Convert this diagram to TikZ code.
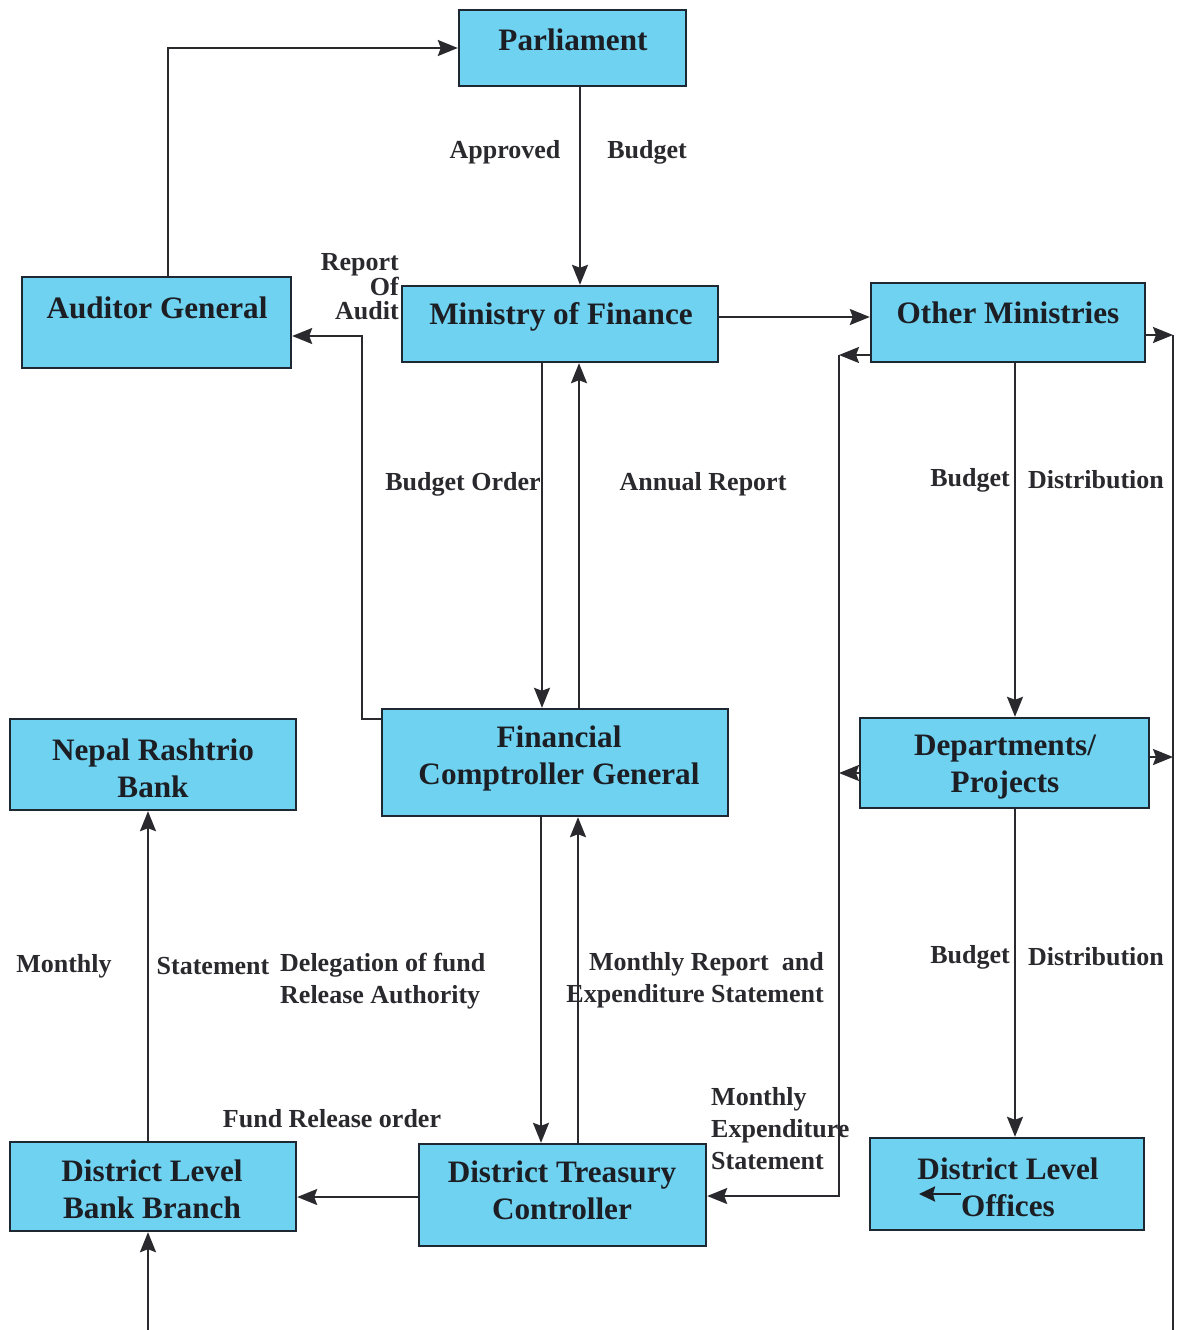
\documentclass[tikz,border=0pt]{standalone}
\usepackage{fontspec}
\setmainfont{Liberation Serif}
\usetikzlibrary{arrows.meta}
\definecolor{boxfill}{RGB}{110,210,240}
\definecolor{boxline}{RGB}{30,40,50}
\definecolor{ink}{RGB}{28,30,36}
\definecolor{lblink}{RGB}{42,42,46}
\begin{document}
\begin{tikzpicture}[x=1pt,y=-1pt,
  box/.style={draw=boxline, line width=2.4pt, fill=boxfill, inner sep=0pt},
  boxtxt/.style={inner sep=0pt, align=center, text=ink,
    font=\bfseries\fontsize{31.2}{37}\selectfont},
  lbl/.style={inner sep=0pt, text=lblink, font=\bfseries\fontsize{26}{32}\selectfont},
  link/.style={draw=lblink, line width=2pt},
  arr/.style={link, -{Stealth[length=20pt,width=16pt,inset=3pt]}},
  smallarr/.style={draw=ink, line width=2.4pt, -{Stealth[length=16pt,width=15pt,inset=2pt]}},
]
\fill[white] (0,0) rectangle (1182,1330);
\useasboundingbox (0,0) rectangle (1182,1330);

% boxes
\node[box, minimum width=227, minimum height=76] (parl) at (572.5,48) {};
\node[box, minimum width=269, minimum height=91] (aud) at (156.5,322.5) {};
\node[box, minimum width=316, minimum height=76] (mof) at (560,324) {};
\node[box, minimum width=274, minimum height=79] (other) at (1008,322.5) {};
\node[box, minimum width=286, minimum height=91] (nrb) at (153,764.5) {};
\node[box, minimum width=346, minimum height=107] (fcg) at (555,762.5) {};
\node[box, minimum width=289, minimum height=90] (dept) at (1004.5,763) {};
\node[box, minimum width=286, minimum height=89] (dlbb) at (153,1186.5) {};
\node[box, minimum width=287, minimum height=102] (dtc) at (562.5,1195) {};
\node[box, minimum width=274, minimum height=92] (dlo) at (1007,1184) {};

% box titles
\node[boxtxt] (parlT) at (573,40) {Parliament};
\node[boxtxt] (audT) at (157,308) {Auditor General};
\node[boxtxt] (mofT) at (561,317) {Ministry of Finance};
\node[boxtxt] (otherT) at (1008,313) {Other Ministries};
\node[boxtxt] (nrbT) at (153,768.5) {Nepal Rashtrio\\Bank};
\node[boxtxt] (fcgT) at (559,758.5) {Financial\\Comptroller General};
\node[boxtxt] (deptT) at (1005,767.5) {Departments/\\Projects};
\node[boxtxt] (dlbbT) at (152,1189) {District Level\\Bank Branch};
\node[boxtxt] (dtcT) at (562,1190) {District Treasury\\Controller};
\node[boxtxt] (dloT) at (1008,1187.5) {District Level\\Offices};

% arrow drawn inside the district offices box
\coordinate (offA) at (961,1194);
\draw[smallarr] (offA) -- ++(-42,0);

% free ends and corners of the connectors
\coordinate (inB) at (148,1330);
\coordinate (lc1) at (839,355);
\coordinate (lc2) at (839,773);
\coordinate (lc3) at (839,1196);
\coordinate (rc1) at (1173,335);
\coordinate (rc2) at (1173,757);
\coordinate (rcB) at (1173,1330);

% connectors
\draw[arr] ([xshift=11.5]aud.north) |- (parl.west);
\draw[arr] (580,0 |- parl.south) -- (580,0 |- mof.north);
\draw[arr] (mof.east |- 0,317) -- (other.west |- 0,317);
\draw[arr] (fcg.west |- 0,719) -| (362,336) -- (aud.east |- 0,336);
\draw[arr] (542,0 |- mof.south) -- (542,0 |- fcg.north);
\draw[arr] (579,0 |- fcg.north) -- (579,0 |- mof.south);
\draw[arr] (1015,0 |- other.south) -- (1015,0 |- dept.north);
\draw[arr] (1015,0 |- dept.south) -- (1015,0 |- dlo.north);
\draw[arr] (541,0 |- fcg.south) -- (541,0 |- dtc.north);
\draw[arr] (578,0 |- dtc.north) -- (578,0 |- fcg.south);
\draw[arr] (dtc.west |- 0,1197) -- (dlbb.east |- 0,1197);
\draw[arr] (148,0 |- dlbb.north) -- (148,0 |- nrb.south);
\draw[arr] (inB) -- (148,0 |- dlbb.south);

\draw[arr] (other.west |- lc1) -- (lc1);
\draw[arr] (dept.west |- lc2) -- (lc2);
\draw[arr] (lc1) -- (lc3) -- (dtc.east |- lc3);

\draw[arr] (other.east |- rc1) -- (rc1);
\draw[arr] (dept.east |- rc2) -- (rc2);
\draw[link] (rc1) -- (rcB);

% labels
\node[lbl] (l1) at (505,152) {Approved};
\node[lbl] (l2) at (647,152) {Budget};
\node[lbl, align=right, anchor=east, font=\bfseries\fontsize{26}{24.5}\selectfont] (l3) at (399,287) {Report\\Of\\Audit};
\node[lbl] (l4) at (463,484) {Budget Order};
\node[lbl] (l5) at (703,484) {Annual Report};
\node[lbl] (l6) at (970,480) {Budget};
\node[lbl] (l7) at (1096,480) {Distribution};
\node[lbl] (l8) at (970,957) {Budget};
\node[lbl] (l9) at (1096,957) {Distribution};
\node[lbl] (l10) at (64,966) {Monthly};
\node[lbl] (l11) at (213,966) {Statement};
\node[lbl, align=left, anchor=west] (l12) at (280,981) {Delegation of fund\\Release Authority};
\node[lbl, align=right, anchor=east] (l13) at (824,980) {Monthly Report~ and\\Expenditure Statement};
\node[lbl] (l14) at (332,1119) {Fund Release order};
\node[lbl, align=left, anchor=west] (l15) at (711,1129) {Monthly\\Expenditure\\Statement};
\end{tikzpicture}
\end{document}
